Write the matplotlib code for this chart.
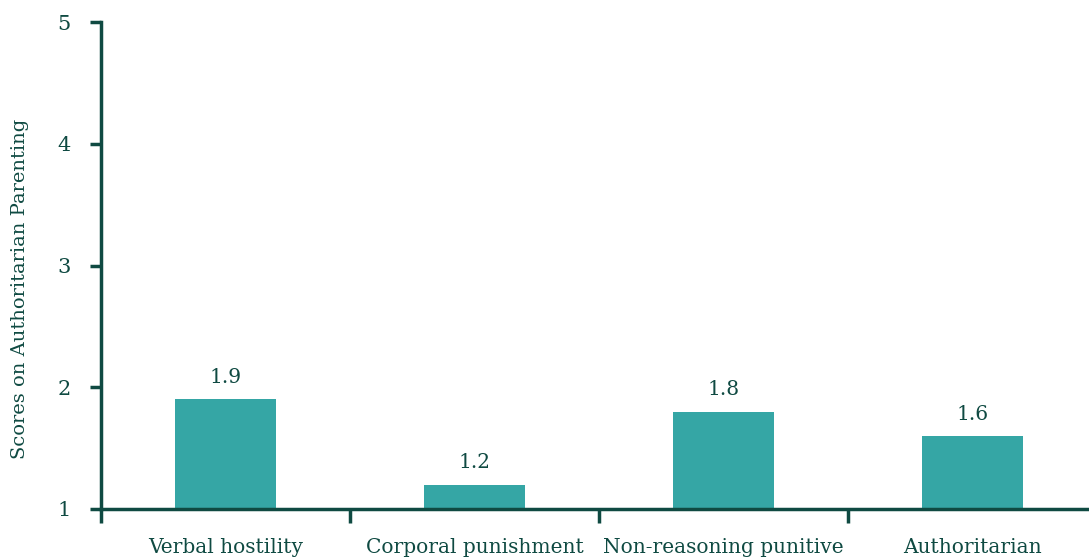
import numpy as np
import matplotlib.pyplot as plt
from matplotlib.ticker import FixedLocator

# data
categories = ['Verbal hostility', 'Corporal punishment', 'Non-reasoning punitive', 'Authoritarian']
scores = [1.9, 1.2, 1.8, 1.6]
y_ticks = [1, 2, 3, 4, 5]

bar_color = '#35a6a5'
ink = '#0f4a42'

plt.rcParams['font.family'] = ['DejaVu Serif']

fig = plt.figure(figsize=(10.89, 5.58), dpi=100)
ax = fig.add_axes([101 / 1089, 1 - 509 / 558, 996 / 1089, 487 / 558])

x = np.arange(len(categories))
ax.bar(x, [s - 1 for s in scores], bottom=1, width=0.405, color=bar_color)

for xi, s in zip(x, scores):
    ax.text(xi, s + 0.1, f'{s:.1f}', ha='center', va='bottom', fontsize=14.5, color=ink)

ax.set_xlim(-0.5, 3.5)
ax.set_ylim(1, 5)
ax.set_yticks(y_ticks)
ax.set_xticks(x)
ax.set_xticklabels(categories, fontsize=14.5, color=ink)
ax.xaxis.set_minor_locator(FixedLocator(np.arange(-0.5, 4, 1)))
ax.tick_params(axis='x', which='major', length=0, pad=21)
ax.tick_params(axis='x', which='minor', length=10, width=2.5, color=ink, direction='out')
ax.tick_params(axis='y', length=8, width=2.5, color=ink, labelsize=15, labelcolor=ink, pad=14)

for side in ['top', 'right']:
    ax.spines[side].set_visible(False)
for side in ['left', 'bottom']:
    ax.spines[side].set_color(ink)
    ax.spines[side].set_linewidth(2.5)

# y label sits a bit below the axis middle
fig.text(20 / 1089, 1 - 289 / 558, 'Scores on Authoritarian Parenting', rotation=90,
         ha='center', va='center', fontsize=14, color=ink)

fig.savefig('out.png', dpi=100)
